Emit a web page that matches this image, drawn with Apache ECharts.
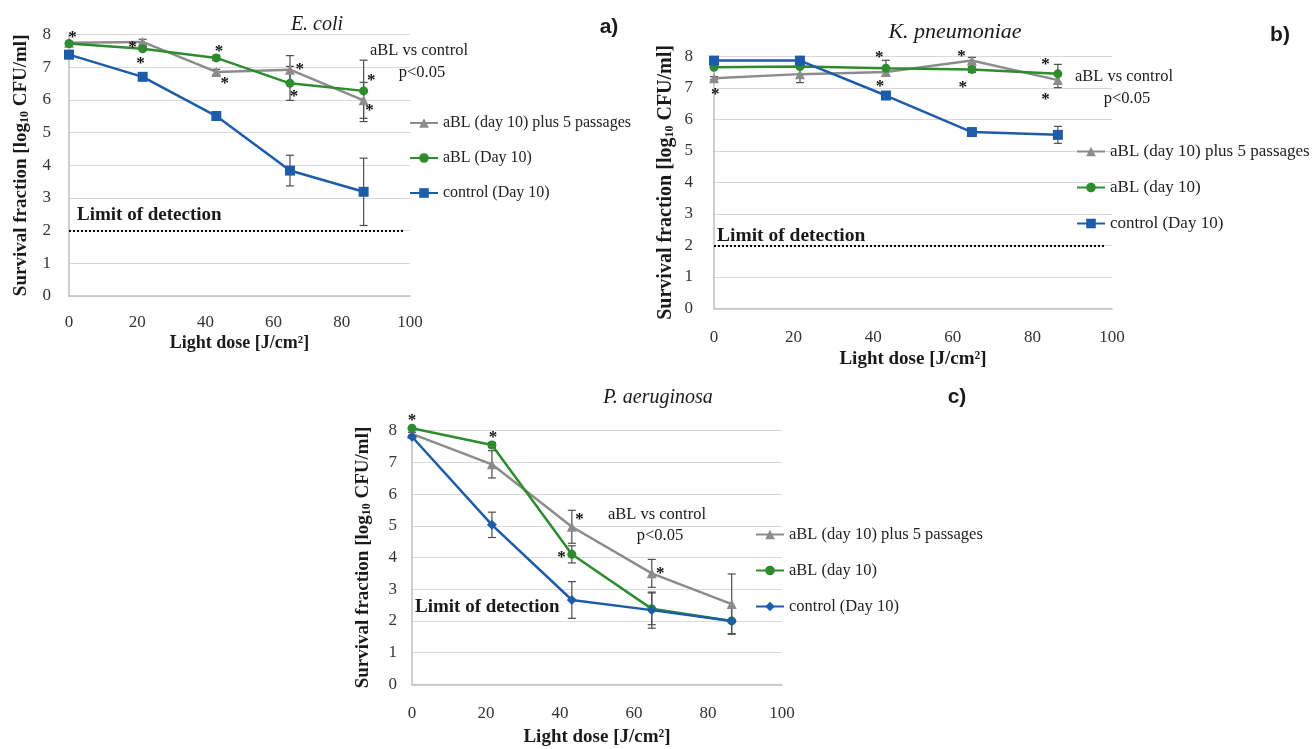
<!DOCTYPE html>
<html>
<head>
<meta charset="utf-8">
<script src="https://cdn.jsdelivr.net/npm/echarts@6/dist/echarts.min.js"></script>
<style>
  html, body { margin: 0; padding: 0; background: #fff; }
  #chart { width: 1313px; height: 749px; }
</style>
</head>
<body>
<div id="chart"></div>
<script>
// light dose points (J/cm2), same for all three panels
const doses = [0, 21.6, 43.2, 64.8, 86.4];

// a) E. coli
const aPassages = [7.75, 7.78, 6.86, 6.93, 5.99];
const aPassagesErr = [0, 0.08, 0.08, 0.43, 0.55];
const aBL_a = [7.73, 7.57, 7.29, 6.51, 6.28];
const aBL_aErr = [0.05, 0.05, 0.08, 0.52, 0.94];
const aControl = [7.39, 6.71, 5.51, 3.84, 3.19];
const aControlErr = [0.12, 0.05, 0.05, 0.47, 1.03];
const aStars = [[1.0, 8.03], [18.6, 7.73], [21.0, 7.25], [44.0, 7.59], [45.7, 6.63],
  [67.7, 7.06], [66.0, 6.22], [88.6, 6.73], [88.1, 5.81]];

// b) K. pneumoniae
const bPassages = [7.31, 7.44, 7.51, 7.87, 7.25];
const bPassagesErr = [0.05, 0.27, 0.1, 0.1, 0.24];
const bBL = [7.66, 7.68, 7.63, 7.59, 7.45];
const bBLErr = [0.05, 0.05, 0.25, 0.1, 0.3];
const bControl = [7.87, 7.87, 6.76, 5.60, 5.51];
const bControlErr = [0, 0, 0.05, 0.05, 0.27];
const bStars = [[0.3, 6.92], [41.5, 8.10], [41.7, 7.18], [62.2, 8.13], [62.5, 7.15],
  [83.3, 7.86], [83.3, 6.75]];

// c) P. aeruginosa
const cPassages = [7.90, 6.94, 4.97, 3.50, 2.53];
const cPassagesErr = [0.05, 0.43, 0.52, 0.44, 0.95];
const cBL = [8.08, 7.55, 4.10, 2.38, 2.00];
const cBLErr = [0.05, 0.08, 0.27, 0.5, 0.05];
const cControl = [7.81, 5.03, 2.66, 2.34, 2.00];
const cControlErr = [0.05, 0.4, 0.58, 0.57, 0.4];
const cStars = [[0, 8.44], [21.9, 7.92], [45.3, 5.31], [40.4, 4.11], [67.1, 3.61]];

const detectionLimit = 2;

const FONT = "'Liberation Serif', 'DejaVu Serif', serif";
const GRAY = "#8c8c8c";
const GREEN = "#2e8b2e";
const BLUE = "#1c5ca8";

const chart = echarts.init(document.getElementById("chart"));

function pairs(ys) {
  return doses.map((x, i) => [x, ys[i]]);
}

function errRows(ys, errs) {
  const rows = [];
  doses.forEach((x, i) => {
    if (errs[i] > 0) rows.push([x, ys[i] - errs[i], ys[i] + errs[i]]);
  });
  return rows;
}

function renderErr(params, api) {
  const x = api.value(0);
  const lo = api.coord([x, api.value(1)]);
  const hi = api.coord([x, api.value(2)]);
  const w = 4;
  const st = { stroke: "#4d4d4d", lineWidth: 1.2 };
  return {
    type: "group",
    children: [
      { type: "line", shape: { x1: lo[0], y1: lo[1], x2: hi[0], y2: hi[1] }, style: st },
      { type: "line", shape: { x1: lo[0] - w, y1: lo[1], x2: lo[0] + w, y2: lo[1] }, style: st },
      { type: "line", shape: { x1: hi[0] - w, y1: hi[1], x2: hi[0] + w, y2: hi[1] }, style: st },
    ],
  };
}

function renderStar(params, api) {
  const p = api.coord([api.value(0), api.value(1)]);
  return {
    type: "text",
    x: p[0],
    y: p[1] + 4,
    style: {
      text: "*",
      fill: "#111",
      font: "bold 17px " + FONT,
      textAlign: "center",
      textVerticalAlign: "middle",
      align: "center",
      verticalAlign: "middle",
    },
  };
}

function lineSeries(name, ys, idx, color, symbol, size) {
  return {
    name,
    type: "line",
    xAxisIndex: idx,
    yAxisIndex: idx,
    data: pairs(ys),
    symbol,
    symbolSize: size,
    clip: false,
    z: 3,
    lineStyle: { color, width: 2.5 },
    itemStyle: { color },
  };
}

function panelSeries(idx, sets, stars, limitEnd) {
  const series = [];
  sets.forEach((s) => {
    series.push({
      type: "custom",
      xAxisIndex: idx,
      yAxisIndex: idx,
      renderItem: renderErr,
      data: errRows(s.ys, s.err),
      clip: false,
      silent: true,
      z: 2,
    });
  });
  sets.forEach((s) => {
    series.push(lineSeries(s.name, s.ys, idx, s.color, s.symbol, s.size));
  });
  series.push({
    type: "custom",
    xAxisIndex: idx,
    yAxisIndex: idx,
    renderItem: renderStar,
    data: stars,
    clip: false,
    silent: true,
    z: 4,
  });
  // limit of detection
  series.push({
    type: "line",
    xAxisIndex: idx,
    yAxisIndex: idx,
    data: [],
    clip: false,
    markLine: {
      silent: true,
      symbol: "none",
      label: { show: false },
      lineStyle: { type: "dotted", color: "#000", width: 2 },
      data: [[{ coord: [0, detectionLimit] }, { coord: [limitEnd, detectionLimit] }]],
    },
  });
  return series;
}

function nameRich(size) {
  return {
    t: { fontFamily: FONT, fontWeight: "bold", fontSize: size, color: "#1a1a1a", lineHeight: 22 },
    s: { fontFamily: FONT, fontWeight: "bold", fontSize: Math.round(size * 0.62), color: "#1a1a1a", lineHeight: 22, padding: [8, 0, 0, 0] },
  };
}

function xAxis(idx, margin, gap, nameSize) {
  return {
    gridIndex: idx,
    type: "value",
    min: 0,
    max: 100,
    interval: 20,
    name: "Light dose [J/cm²]",
    nameLocation: "middle",
    nameGap: gap,
    nameTextStyle: { fontFamily: FONT, fontWeight: "bold", fontSize: nameSize, color: "#1a1a1a" },
    axisLine: { lineStyle: { color: "#bfbfbf", width: 1.5 } },
    axisTick: { show: false },
    splitLine: { show: false },
    axisLabel: { margin, fontFamily: FONT, fontSize: 17, color: "#333" },
  };
}

function yAxis(idx, margin, gap, nameSize) {
  return {
    gridIndex: idx,
    type: "value",
    min: 0,
    max: 8,
    interval: 1,
    name: "{t|Survival fraction [log}{s|10}{t| CFU/ml]}",
    nameLocation: "middle",
    nameGap: gap,
    nameRotate: 90,
    nameTextStyle: { rich: nameRich(nameSize) },
    axisLine: { show: true, lineStyle: { color: "#bfbfbf", width: 1.5 } },
    axisTick: { show: false },
    splitLine: { lineStyle: { color: "#d9d9d9", width: 1.2 } },
    axisLabel: { margin, fontFamily: FONT, fontSize: 17, color: "#333" },
  };
}

function legend(names, left, top, size) {
  return {
    data: names,
    left,
    top,
    orient: "vertical",
    itemWidth: 28,
    itemHeight: 12,
    itemGap: 19,
    textStyle: { fontFamily: FONT, fontSize: size, color: "#222" },
  };
}

// panels b and c names carry trailing spaces so each legend keeps its own marker
const namesA = ["aBL (day 10) plus 5 passages", "aBL (Day 10)", "control (Day 10)"];
const namesB = ["aBL (day 10) plus 5 passages ", "aBL (day 10) ", "control (Day 10) "];
const namesC = ["aBL (day 10) plus 5 passages  ", "aBL (day 10)  ", "control (Day 10)  "];

function txt(text, x, y, font, align) {
  return {
    type: "text",
    x,
    y,
    silent: true,
    style: {
      text,
      fill: "#1a1a1a",
      font,
      textAlign: align || "center",
      textVerticalAlign: "middle",
      align: align || "center",
      verticalAlign: "middle",
    },
  };
}

const series = [].concat(
  panelSeries(0, [
    { name: namesA[0], ys: aPassages, err: aPassagesErr, color: GRAY, symbol: "triangle", size: 10 },
    { name: namesA[1], ys: aBL_a, err: aBL_aErr, color: GREEN, symbol: "circle", size: 9 },
    { name: namesA[2], ys: aControl, err: aControlErr, color: BLUE, symbol: "rect", size: 10 },
  ], aStars, 98.5),
  panelSeries(1, [
    { name: namesB[0], ys: bPassages, err: bPassagesErr, color: GRAY, symbol: "triangle", size: 10 },
    { name: namesB[1], ys: bBL, err: bBLErr, color: GREEN, symbol: "circle", size: 9 },
    { name: namesB[2], ys: bControl, err: bControlErr, color: BLUE, symbol: "rect", size: 10 },
  ], bStars, 98),
  panelSeries(2, [
    { name: namesC[0], ys: cPassages, err: cPassagesErr, color: GRAY, symbol: "triangle", size: 10 },
    { name: namesC[1], ys: cBL, err: cBLErr, color: GREEN, symbol: "circle", size: 9 },
    { name: namesC[2], ys: cControl, err: cControlErr, color: BLUE, symbol: "diamond", size: 10 },
  ], cStars, 103.5)
);

chart.setOption({
  animation: false,
  backgroundColor: "#fff",
  grid: [
    { left: 69, top: 34.7, width: 341, height: 261.3 },
    { left: 714, top: 56.5, width: 398, height: 251.8 },
    { left: 412, top: 430.7, width: 370, height: 253.6 },
  ],
  xAxis: [xAxis(0, 18, 38, 18), xAxis(1, 21, 41, 19), xAxis(2, 21, 43, 19)],
  yAxis: [yAxis(0, 18, 37, 19), yAxis(1, 21, 37, 20), yAxis(2, 15, 38, 19)],
  legend: [
    legend(namesA, 404, 110, 16),
    legend(namesB, 1071, 138, 17),
    legend(namesC, 750, 521, 16.5),
  ],
  graphic: [
    txt("E. coli", 317, 25, "italic 20px " + FONT),
    txt("K. pneumoniae", 955, 32, "italic 22px " + FONT),
    txt("P. aeruginosa", 658, 398, "italic 20px " + FONT),
    txt("a)", 609, 27, "bold 21px 'Liberation Sans', sans-serif"),
    txt("b)", 1280, 35, "bold 21px 'Liberation Sans', sans-serif"),
    txt("c)", 957, 397, "bold 21px 'Liberation Sans', sans-serif"),
    txt("aBL vs control", 419, 51, "16.5px " + FONT),
    txt("p<0.05", 422, 73, "16.5px " + FONT),
    txt("aBL vs control", 1124, 77, "16.5px " + FONT),
    txt("p<0.05", 1127, 99, "16.5px " + FONT),
    txt("aBL vs control", 657, 515, "16.5px " + FONT),
    txt("p<0.05", 660, 536, "16.5px " + FONT),
    txt("Limit of detection", 77, 215, "bold 19px " + FONT, "left"),
    txt("Limit of detection", 717, 236, "bold 19.5px " + FONT, "left"),
    txt("Limit of detection", 415, 607, "bold 19px " + FONT, "left"),
  ],
  series,
});
</script>
</body>
</html>
